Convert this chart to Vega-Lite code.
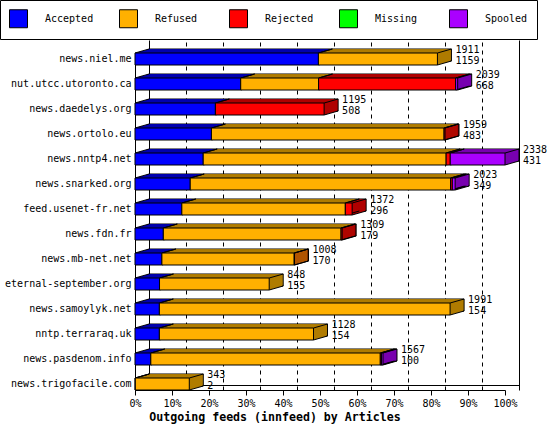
{
  "$schema": "https://vega.github.io/schema/vega-lite/v6.json",
  "width": 370,
  "height": 350,
  "autosize": {"type": "none"},
  "padding": {"left": 135, "top": 40, "right": 45, "bottom": 40},
  "background": "white",
  "config": {"view": {"stroke": null}, "font": "DejaVu Sans Mono"},
  "data": {"values": [
    {"host": "news.niel.me", "cat": "Accepted", "n": 1159},
    {"host": "news.niel.me", "cat": "Refused", "n": 752},
    {"host": "nut.utcc.utoronto.ca", "cat": "Accepted", "n": 668},
    {"host": "nut.utcc.utoronto.ca", "cat": "Refused", "n": 492},
    {"host": "nut.utcc.utoronto.ca", "cat": "Rejected", "n": 866},
    {"host": "nut.utcc.utoronto.ca", "cat": "Spooled", "n": 13},
    {"host": "news.daedelys.org", "cat": "Accepted", "n": 508},
    {"host": "news.daedelys.org", "cat": "Rejected", "n": 687},
    {"host": "news.ortolo.eu", "cat": "Accepted", "n": 483},
    {"host": "news.ortolo.eu", "cat": "Refused", "n": 1470},
    {"host": "news.ortolo.eu", "cat": "Rejected", "n": 6},
    {"host": "news.nntp4.net", "cat": "Accepted", "n": 431},
    {"host": "news.nntp4.net", "cat": "Refused", "n": 1535},
    {"host": "news.nntp4.net", "cat": "Rejected", "n": 26},
    {"host": "news.nntp4.net", "cat": "Spooled", "n": 346},
    {"host": "news.snarked.org", "cat": "Accepted", "n": 349},
    {"host": "news.snarked.org", "cat": "Refused", "n": 1645},
    {"host": "news.snarked.org", "cat": "Rejected", "n": 11},
    {"host": "news.snarked.org", "cat": "Spooled", "n": 18},
    {"host": "feed.usenet-fr.net", "cat": "Accepted", "n": 296},
    {"host": "feed.usenet-fr.net", "cat": "Refused", "n": 1033},
    {"host": "feed.usenet-fr.net", "cat": "Rejected", "n": 43},
    {"host": "news.fdn.fr", "cat": "Accepted", "n": 179},
    {"host": "news.fdn.fr", "cat": "Refused", "n": 1123},
    {"host": "news.fdn.fr", "cat": "Rejected", "n": 7},
    {"host": "news.mb-net.net", "cat": "Accepted", "n": 170},
    {"host": "news.mb-net.net", "cat": "Refused", "n": 836},
    {"host": "news.mb-net.net", "cat": "Rejected", "n": 2},
    {"host": "eternal-september.org", "cat": "Accepted", "n": 155},
    {"host": "eternal-september.org", "cat": "Refused", "n": 693},
    {"host": "news.samoylyk.net", "cat": "Accepted", "n": 154},
    {"host": "news.samoylyk.net", "cat": "Refused", "n": 1837},
    {"host": "nntp.terraraq.uk", "cat": "Accepted", "n": 154},
    {"host": "nntp.terraraq.uk", "cat": "Refused", "n": 974},
    {"host": "news.pasdenom.info", "cat": "Accepted", "n": 100},
    {"host": "news.pasdenom.info", "cat": "Refused", "n": 1450},
    {"host": "news.pasdenom.info", "cat": "Rejected", "n": 8},
    {"host": "news.pasdenom.info", "cat": "Spooled", "n": 9},
    {"host": "news.trigofacile.com", "cat": "Accepted", "n": 2},
    {"host": "news.trigofacile.com", "cat": "Refused", "n": 341}
  ]},
  "transform": [
    {"stack": "n", "groupby": ["host"], "sort": [{"field": "cat", "order": "ascending"}], "as": ["x0", "x1"]}
  ],
  "resolve": {"scale": {"x": "independent"}, "axis": {"x": "independent"}},
  "encoding": {
    "y": {"field": "host", "type": "nominal",
      "scale": {"domain": ["news.niel.me", "nut.utcc.utoronto.ca", "news.daedelys.org", "news.ortolo.eu", "news.nntp4.net", "news.snarked.org", "feed.usenet-fr.net", "news.fdn.fr", "news.mb-net.net", "eternal-september.org", "news.samoylyk.net", "nntp.terraraq.uk", "news.pasdenom.info", "news.trigofacile.com"],
        "range": [13, 350], "paddingInner": 0.52, "paddingOuter": 0},
      "axis": {"title": null, "ticks": false, "tickSize": 0, "domain": true, "domainColor": "black", "labelColor": "black", "labelFont": "DejaVu Sans Mono", "labelFontSize": 10, "labelPadding": 4, "labelLimit": 200, "grid": false}}
  },
  "layer": [
    {
      "mark": {"type": "rule", "opacity": 0},
      "encoding": {
        "y": null,
        "x": {"field": "x1", "type": "quantitative",
          "scale": {"domain": [0, 2338], "range": [14, 384], "nice": false, "zero": true},
          "axis": {"orient": "bottom", "values": [0, 233.8, 467.6, 701.4, 935.2, 1169, 1402.8, 1636.6, 1870.4, 2104.2, 2338],
            "grid": true, "gridColor": "black", "gridOpacity": 1, "gridWidth": 1,
            "gridDash": {"condition": {"test": "datum.value < 1 || datum.value > 2337", "value": []}, "value": [4, 4]},
            "labels": false, "ticks": false, "domain": true, "domainColor": "black", "offset": -5, "title": null}}
      }
    },
    {"mark": {"type": "bar", "xOffset": 14, "x2Offset": 14, "yOffset": -4, "stroke": "black", "strokeWidth": 1},
     "encoding": {"x": {"field": "x0", "type": "quantitative", "scale": {"domain": [0, 2338], "nice": false}, "axis": null}, "x2": {"field": "x1"},
       "fill": {"field": "cat", "type": "nominal", "scale": {"domain": ["Spooled", "Missing", "Rejected", "Refused", "Accepted"], "range": ["#7800b0", "#00b000", "#b00000", "#b07c00", "#0000b0"]}, "legend": null}}},
    {"mark": {"type": "bar", "xOffset": 13, "x2Offset": 13, "yOffset": -3.71}, "encoding": {"x": {"field": "x0", "type": "quantitative", "scale": {"domain": [0, 2338], "nice": false}, "axis": null}, "x2": {"field": "x1"}, "fill": {"field": "cat", "type": "nominal", "legend": null}}},
    {"mark": {"type": "bar", "xOffset": 12, "x2Offset": 12, "yOffset": -3.43}, "encoding": {"x": {"field": "x0", "type": "quantitative", "scale": {"domain": [0, 2338], "nice": false}, "axis": null}, "x2": {"field": "x1"}, "fill": {"field": "cat", "type": "nominal", "legend": null}}},
    {"mark": {"type": "bar", "xOffset": 11, "x2Offset": 11, "yOffset": -3.14}, "encoding": {"x": {"field": "x0", "type": "quantitative", "scale": {"domain": [0, 2338], "nice": false}, "axis": null}, "x2": {"field": "x1"}, "fill": {"field": "cat", "type": "nominal", "legend": null}}},
    {"mark": {"type": "bar", "xOffset": 10, "x2Offset": 10, "yOffset": -2.86}, "encoding": {"x": {"field": "x0", "type": "quantitative", "scale": {"domain": [0, 2338], "nice": false}, "axis": null}, "x2": {"field": "x1"}, "fill": {"field": "cat", "type": "nominal", "legend": null}}},
    {"mark": {"type": "bar", "xOffset": 9, "x2Offset": 9, "yOffset": -2.57}, "encoding": {"x": {"field": "x0", "type": "quantitative", "scale": {"domain": [0, 2338], "nice": false}, "axis": null}, "x2": {"field": "x1"}, "fill": {"field": "cat", "type": "nominal", "legend": null}}},
    {"mark": {"type": "bar", "xOffset": 8, "x2Offset": 8, "yOffset": -2.29}, "encoding": {"x": {"field": "x0", "type": "quantitative", "scale": {"domain": [0, 2338], "nice": false}, "axis": null}, "x2": {"field": "x1"}, "fill": {"field": "cat", "type": "nominal", "legend": null}}},
    {"mark": {"type": "bar", "xOffset": 7, "x2Offset": 7, "yOffset": -2}, "encoding": {"x": {"field": "x0", "type": "quantitative", "scale": {"domain": [0, 2338], "nice": false}, "axis": null}, "x2": {"field": "x1"}, "fill": {"field": "cat", "type": "nominal", "legend": null}}},
    {"mark": {"type": "bar", "xOffset": 6, "x2Offset": 6, "yOffset": -1.71}, "encoding": {"x": {"field": "x0", "type": "quantitative", "scale": {"domain": [0, 2338], "nice": false}, "axis": null}, "x2": {"field": "x1"}, "fill": {"field": "cat", "type": "nominal", "legend": null}}},
    {"mark": {"type": "bar", "xOffset": 5, "x2Offset": 5, "yOffset": -1.43}, "encoding": {"x": {"field": "x0", "type": "quantitative", "scale": {"domain": [0, 2338], "nice": false}, "axis": null}, "x2": {"field": "x1"}, "fill": {"field": "cat", "type": "nominal", "legend": null}}},
    {"mark": {"type": "bar", "xOffset": 4, "x2Offset": 4, "yOffset": -1.14}, "encoding": {"x": {"field": "x0", "type": "quantitative", "scale": {"domain": [0, 2338], "nice": false}, "axis": null}, "x2": {"field": "x1"}, "fill": {"field": "cat", "type": "nominal", "legend": null}}},
    {"mark": {"type": "bar", "xOffset": 3, "x2Offset": 3, "yOffset": -0.86}, "encoding": {"x": {"field": "x0", "type": "quantitative", "scale": {"domain": [0, 2338], "nice": false}, "axis": null}, "x2": {"field": "x1"}, "fill": {"field": "cat", "type": "nominal", "legend": null}}},
    {"mark": {"type": "bar", "xOffset": 2, "x2Offset": 2, "yOffset": -0.57}, "encoding": {"x": {"field": "x0", "type": "quantitative", "scale": {"domain": [0, 2338], "nice": false}, "axis": null}, "x2": {"field": "x1"}, "fill": {"field": "cat", "type": "nominal", "legend": null}}},
    {"mark": {"type": "bar", "xOffset": 1, "x2Offset": 1, "yOffset": -0.29}, "encoding": {"x": {"field": "x0", "type": "quantitative", "scale": {"domain": [0, 2338], "nice": false}, "axis": null}, "x2": {"field": "x1"}, "fill": {"field": "cat", "type": "nominal", "legend": null}}},
    {"mark": {"type": "rule", "color": "black", "strokeWidth": 1, "x2Offset": 14, "yOffset": -6, "y2Offset": -10},
     "encoding": {"x": {"field": "x1", "type": "quantitative", "scale": {"domain": [0, 2338], "nice": false}, "axis": null}, "x2": {"field": "x1"}, "y2": {"field": "host"}}},
    {"mark": {"type": "rule", "color": "black", "strokeWidth": 1, "x2Offset": 14, "yOffset": -6, "y2Offset": -10},
     "encoding": {"x": {"field": "x0", "type": "quantitative", "scale": {"domain": [0, 2338], "nice": false}, "axis": null}, "x2": {"field": "x0"}, "y2": {"field": "host"}}},
    {"mark": {"type": "rule", "color": "black", "strokeWidth": 1, "x2Offset": 14, "yOffset": 6, "y2Offset": 2},
     "encoding": {"x": {"field": "x1", "type": "quantitative", "scale": {"domain": [0, 2338], "nice": false}, "axis": null}, "x2": {"field": "x1"}, "y2": {"field": "host"}}},
    {"mark": {"type": "bar", "stroke": "black", "strokeWidth": 1},
     "encoding": {
       "x": {"field": "x0", "type": "quantitative",
          "scale": {"domain": [0, 2338], "nice": false, "zero": true},
          "axis": {"orient": "bottom", "values": [0, 233.8, 467.6, 701.4, 935.2, 1169, 1402.8, 1636.6, 1870.4, 2104.2, 2338],
            "labelExpr": "round(datum.value / 23.38) + '%'", "grid": false,
            "domainColor": "black", "tickColor": "black", "tickSize": 5,
            "labelColor": "black", "labelFont": "DejaVu Sans Mono", "labelFontSize": 10, "labelPadding": 3,
            "labelFlush": false, "labelOverlap": false,
            "title": "Outgoing feeds (innfeed) by Articles", "titleFont": "DejaVu Sans Mono", "titleFontSize": 11.6,
            "titleFontWeight": "bold", "titleColor": "black", "titleX": 139.5, "titleY": 27, "titleBaseline": "middle", "titleAlign": "center"}},
       "x2": {"field": "x1"},
       "color": {"field": "cat", "type": "nominal",
         "scale": {"domain": ["Accepted", "Refused", "Rejected", "Missing", "Spooled"], "range": ["#0000ff", "#ffb000", "#ff0000", "#00ff00", "#aa00ff"]},
         "legend": {"orient": "none", "legendX": -135, "legendY": -40, "direction": "horizontal", "columns": 5, "title": null,
           "symbolType": "square", "symbolSize": 324, "symbolStrokeColor": "black", "symbolStrokeWidth": 1,
           "labelFont": "DejaVu Sans Mono", "labelFontSize": 10, "labelColor": "black", "labelOffset": 17,
           "columnPadding": 23, "gridAlign": "all", "padding": 9, "strokeColor": "black", "fillColor": "white"}}}},
    {"transform": [{"joinaggregate": [{"op": "max", "field": "x1", "as": "total"}], "groupby": ["host"]}, {"filter": "datum.cat == 'Accepted'"}],
     "mark": {"type": "text", "align": "left", "baseline": "middle", "dx": 18, "dy": -9, "font": "DejaVu Sans Mono", "fontSize": 10, "color": "black"},
     "encoding": {"x": {"field": "total", "type": "quantitative", "scale": {"domain": [0, 2338], "nice": false}, "axis": null}, "text": {"field": "total", "type": "quantitative"}}},
    {"transform": [{"joinaggregate": [{"op": "max", "field": "x1", "as": "total"}], "groupby": ["host"]}, {"filter": "datum.cat == 'Accepted'"}],
     "mark": {"type": "text", "align": "left", "baseline": "middle", "dx": 18, "dy": 2, "font": "DejaVu Sans Mono", "fontSize": 10, "color": "black"},
     "encoding": {"x": {"field": "total", "type": "quantitative", "scale": {"domain": [0, 2338], "nice": false}, "axis": null}, "text": {"field": "n", "type": "quantitative"}}}
  ]
}
